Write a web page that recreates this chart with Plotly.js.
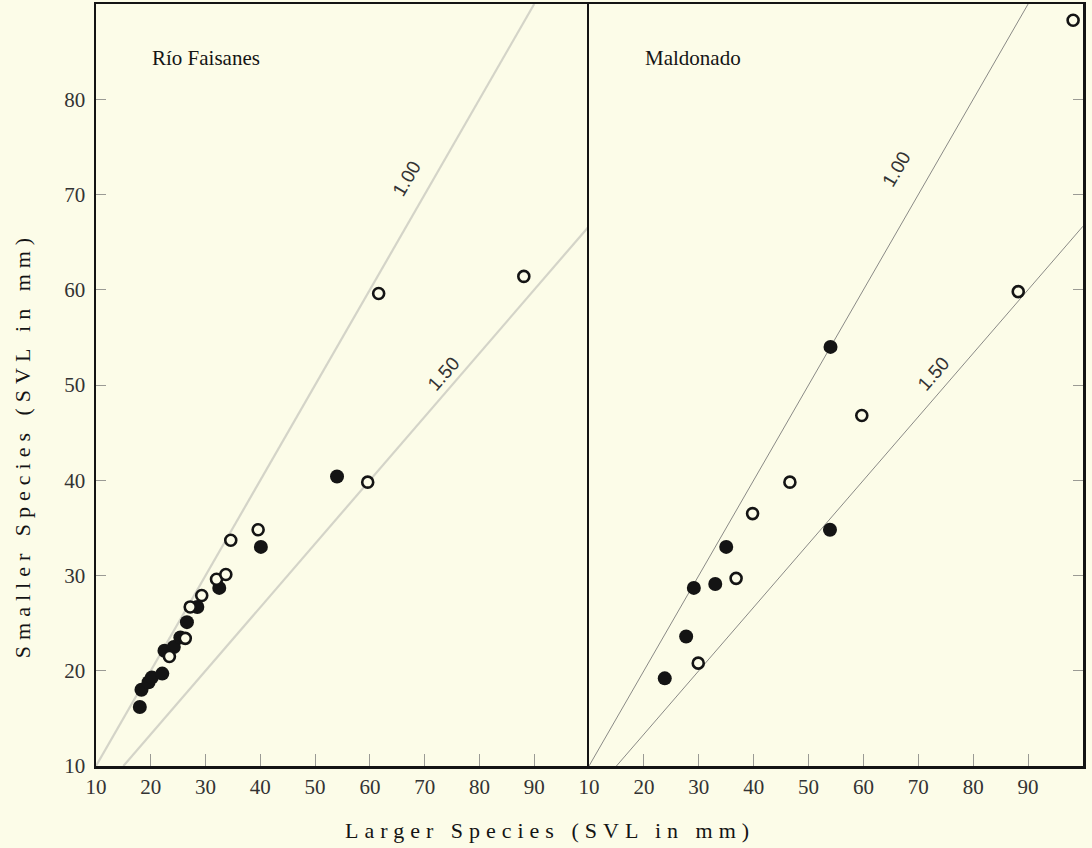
<!DOCTYPE html>
<html>
<head>
<meta charset="utf-8">
<script src="https://cdn.plot.ly/plotly-3.0.1.min.js"></script>
<style>
  html, body { margin: 0; padding: 0; background: #fcfce8; }
  #chart { width: 1092px; height: 848px; }
  g.annotation[data-index="0"] text.annotation-text,
  g.annotation[data-index="1"] text.annotation-text { letter-spacing: 6px; }
</style>
</head>
<body>
<div id="chart"></div>
<script>
// ---- Data ----
const panelNames = ["Río Faisanes", "Maldonado"];

// Río Faisanes
const rfFilledX = [18.0, 18.3, 19.6, 20.2, 22.1, 22.5, 24.2, 25.4, 26.6, 28.5, 32.5, 40.1, 54.0];
const rfFilledY = [16.2, 18.0, 18.8, 19.3, 19.7, 22.1, 22.5, 23.5, 25.1, 26.7, 28.7, 33.0, 40.4];
const rfOpenX   = [23.4, 26.3, 27.2, 29.3, 32.0, 33.7, 34.6, 39.6, 59.6, 61.6, 88.1];
const rfOpenY   = [21.5, 23.4, 26.7, 27.9, 29.6, 30.1, 33.7, 34.8, 39.8, 59.6, 61.4];

// Maldonado
const mdFilledX = [23.8, 27.7, 29.1, 33.0, 35.0, 53.9, 54.0];
const mdFilledY = [19.2, 23.6, 28.7, 29.1, 33.0, 34.8, 54.0];
const mdOpenX   = [29.9, 36.8, 39.8, 46.6, 59.7, 88.2, 98.2];
const mdOpenY   = [20.8, 29.7, 36.5, 39.8, 46.8, 59.8, 88.3];

// Ratio reference lines (larger / smaller)
const ratioLabels = ["1.00", "1.50"];
const line100X = [10, 90];
const line100Y = [10, 90];
const line150X = [15, 100];
const line150Y = [10, 66.67];

const xTicks = [10, 20, 30, 40, 50, 60, 70, 80, 90];
const yTicks = [10, 20, 30, 40, 50, 60, 70, 80];

// ---- Styles ----
const BG = "#fcfce8";
const INK = "#141414";
const serif = "Liberation Serif, DejaVu Serif, serif";
const sans = "Liberation Sans, Arial, sans-serif";

function filled(x, y, xa, ya) {
  return { x, y, xaxis: xa, yaxis: ya, type: "scatter", mode: "markers",
    marker: { size: 14, color: INK, line: { width: 0 } }, hoverinfo: "skip" };
}
function open(x, y, xa, ya) {
  return { x, y, xaxis: xa, yaxis: ya, type: "scatter", mode: "markers",
    marker: { size: 11, color: BG, line: { width: 2.6, color: INK } }, hoverinfo: "skip" };
}
function refLine(x, y, xa, ya, color, width) {
  return { x, y, xaxis: xa, yaxis: ya, type: "scatter", mode: "lines",
    line: { color, width }, hoverinfo: "skip" };
}

const data = [
  refLine(line100X, line100Y, "x", "y", "#d4d4c8", 2.2),
  refLine(line150X, line150Y, "x", "y", "#d4d4c8", 2.2),
  refLine(line100X, line100Y, "x2", "y2", "#8a8a86", 1),
  refLine(line150X, line150Y, "x2", "y2", "#8a8a86", 1),
  filled(rfFilledX, rfFilledY, "x", "y"),
  open(rfOpenX, rfOpenY, "x", "y"),
  filled(mdFilledX, mdFilledY, "x2", "y2"),
  open(mdOpenX, mdOpenY, "x2", "y2"),
];

const tickFont = { family: serif, size: 21, color: "#333" };
const axBase = {
  range: [10, 100], showgrid: false, zeroline: false,
  showline: true, linecolor: INK, linewidth: 2.5, mirror: true,
  ticks: "inside", ticklen: 12, tickwidth: 1, tickcolor: "#9a9a94",
  tickvals: xTicks, tickfont: tickFont, fixedrange: true
};

const layout = {
  width: 1092, height: 848,
  margin: { l: 96, r: 9, t: 4, b: 82 },
  paper_bgcolor: BG, plot_bgcolor: BG,
  showlegend: false,
  xaxis: Object.assign({}, axBase, { domain: [0, 0.4995], anchor: "y" }),
  xaxis2: Object.assign({}, axBase, { domain: [0.4995, 1], anchor: "y2" }),
  yaxis: Object.assign({}, axBase, { range: [10, 90], tickvals: yTicks, ticklen: 10, anchor: "x", mirror: false, ticklabelstandoff: 4 }),
  yaxis2: Object.assign({}, axBase, { range: [10, 90], tickvals: yTicks, ticklen: 10, anchor: "x2", side: "right", showticklabels: false }),
  annotations: [
    { text: "Larger Species (SVL in mm)", xref: "paper", yref: "paper", x: 0.46, y: -0.084,
      xanchor: "center", yanchor: "middle", showarrow: false, font: { family: serif, size: 22, color: INK } },
    { text: "Smaller Species (SVL in mm)", xref: "paper", yref: "paper", x: -0.075, y: 0.421,
      xanchor: "center", yanchor: "middle", textangle: -90, showarrow: false, font: { family: serif, size: 22, color: INK } },
    { text: panelNames[0], xref: "paper", yref: "paper", x: 0.0547, y: 0.929,
      xanchor: "left", yanchor: "middle", showarrow: false, font: { family: serif, size: 21, color: INK } },
    { text: panelNames[1], xref: "paper", yref: "paper", x: 0.554, y: 0.929,
      xanchor: "left", yanchor: "middle", showarrow: false, font: { family: serif, size: 21, color: INK } },
    { text: ratioLabels[0], xref: "x", yref: "y", x: 66.7, y: 71.7, textangle: -60, showarrow: false,
      font: { family: sans, size: 19, color: "#333" }, bgcolor: BG, borderpad: 0 },
    { text: ratioLabels[1], xref: "x", yref: "y", x: 73.5, y: 51.2, textangle: -49, showarrow: false,
      font: { family: sans, size: 19, color: "#333" }, bgcolor: BG, borderpad: 0 },
    { text: ratioLabels[0], xref: "x2", yref: "y2", x: 66.1, y: 72.7, textangle: -60, showarrow: false,
      font: { family: sans, size: 19, color: "#333" }, bgcolor: BG, borderpad: 0 },
    { text: ratioLabels[1], xref: "x2", yref: "y2", x: 72.8, y: 51.2, textangle: -49, showarrow: false,
      font: { family: sans, size: 19, color: "#333" }, bgcolor: BG, borderpad: 0 },
  ]
};

Plotly.newPlot("chart", data, layout, { staticPlot: true, displayModeBar: false });
</script>
</body>
</html>
